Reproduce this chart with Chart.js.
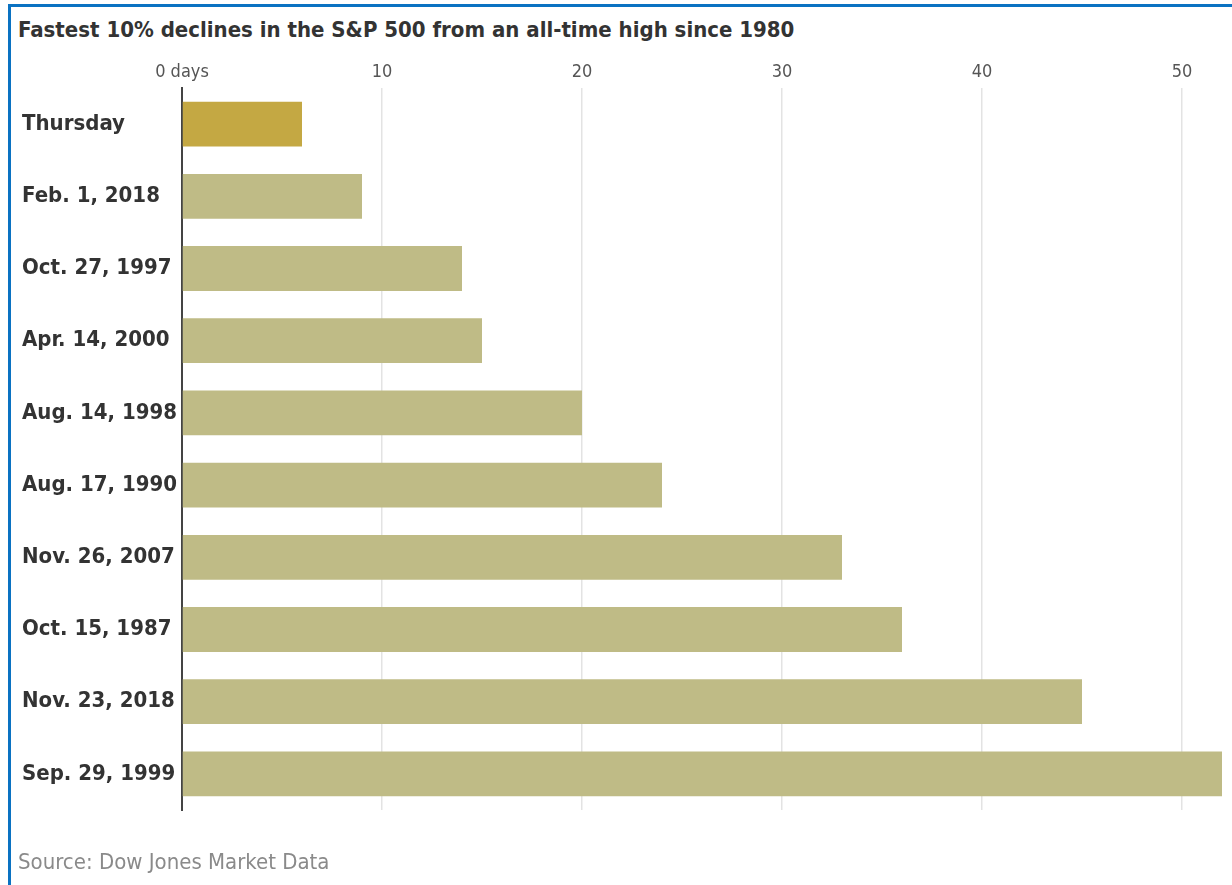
<!DOCTYPE html>
<html>
<head>
<meta charset="utf-8">
<script src="https://cdn.jsdelivr.net/npm/chart.js@4"></script>
<style>
  html, body { margin: 0; padding: 0; background: #fff; overflow: hidden; }
  .frame {
    position: absolute; left: 8px; top: 4px; width: 1300px; height: 1000px;
    border-left: 3px solid #0a72c2; border-top: 3px solid #0a72c2;
  }
  .title {
    position: absolute; left: 18px; top: 19px; margin: 0;
    font: bold 22px "DejaVu Sans Condensed", sans-serif;
    line-height: 22px; color: #333;
  }
  .source {
    position: absolute; left: 18px; top: 851px;
    font: 22px "DejaVu Sans Condensed", sans-serif;
    line-height: 22px; color: #8a8a8a;
  }
  .wrap { position: absolute; left: 0; top: 0; width: 1232px; height: 885px; }
</style>
</head>
<body>
<div class="frame"></div>
<h1 class="title">Fastest 10% declines in the S&amp;P 500 from an all-time high since 1980</h1>
<div class="wrap"><canvas id="chart"></canvas></div>
<div class="source">Source: Dow Jones Market Data</div>
<script>
const categories = ['Thursday', 'Feb. 1, 2018', 'Oct. 27, 1997', 'Apr. 14, 2000', 'Aug. 14, 1998',
  'Aug. 17, 1990', 'Nov. 26, 2007', 'Oct. 15, 1987', 'Nov. 23, 2018', 'Sep. 29, 1999'];
const days = [6, 9, 14, 15, 20, 24, 33, 36, 45, 52];
const tickValues = [0, 10, 20, 30, 40, 50];

const font = '"DejaVu Sans Condensed", sans-serif';
const barColors = categories.map((c, i) => i === 0 ? '#c4a843' : '#bfbb86');

new Chart(document.getElementById('chart'), {
  type: 'bar',
  data: {
    labels: categories,
    datasets: [{
      data: days,
      backgroundColor: barColors,
      barPercentage: 0.62,
      categoryPercentage: 1
    }]
  },
  options: {
    indexAxis: 'y',
    responsive: true,
    maintainAspectRatio: false,
    animation: false,
    layout: { padding: { left: 22, right: 10, top: 55, bottom: 75 } },
    plugins: { legend: { display: false }, tooltip: { enabled: false } },
    scales: {
      x: {
        position: 'top',
        min: 0,
        max: 52,
        afterBuildTicks: axis => { axis.ticks = tickValues.map(v => ({ value: v })); },
        afterFit: axis => { axis.height = 33; },
        border: { display: false },
        grid: {
          drawTicks: false,
          color: ctx => ctx.tick && ctx.tick.value === 0 ? 'rgba(0,0,0,0)' : '#e3e3e3',
          lineWidth: 1.5
        },
        ticks: {
          padding: 5,
          color: '#555',
          font: { family: font, size: 18 },
          callback: v => v === 0 ? '0 days' : String(v)
        }
      },
      y: {
        afterFit: axis => { axis.width = 160; },
        border: { display: true, color: '#444', width: 2 },
        grid: { display: false },
        ticks: {
          crossAlign: 'far',
          color: '#333',
          font: { family: font, size: 22, weight: 'bold' }
        }
      }
    }
  }
});
</script>
</body>
</html>
